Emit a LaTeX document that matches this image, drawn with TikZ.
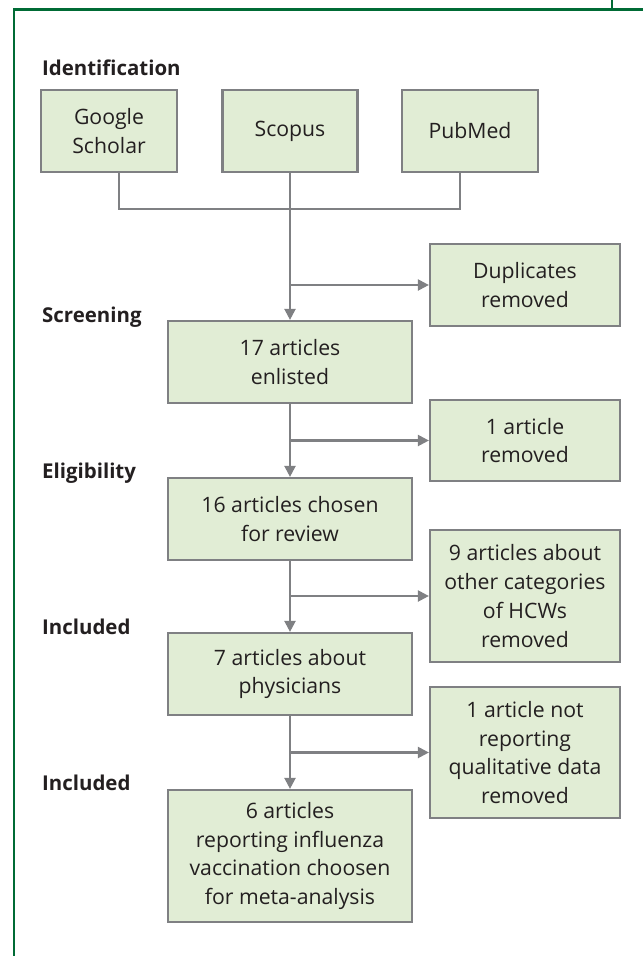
\documentclass[tikz,border=0pt]{standalone}
\usepackage{fontspec}
\setmainfont{Open Sans}
\usetikzlibrary{arrows.meta}
\definecolor{boxfill}{HTML}{E1EDD5}
\definecolor{boxline}{HTML}{7F8083}
\definecolor{framegreen}{HTML}{006B35}
\definecolor{txt}{HTML}{231F20}
\tikzset{
  box/.style={draw=boxline, fill=boxfill, line width=2.2bp, align=center, inner sep=0pt,
    text=txt, font=\fontsize{21.3}{28.8}\selectfont},
  lab/.style={anchor=base west, inner sep=0pt, text=txt, font=\fontsize{20.5}{24}\selectfont\bfseries},
  conn/.style={draw=boxline, line width=2.2bp},
  arr/.style={conn, -{Triangle[length=11bp,width=11bp]}},
}
\begin{document}
\begin{tikzpicture}[x=1bp,y=-1bp]
\useasboundingbox (0,0) rectangle (643,956);
% frame
\draw[framegreen, line width=2.2bp] (14,956) -- (14,9.5) -- (643,9.5);
\draw[framegreen, line width=2.2bp] (612,0) -- (612,9.5);
% labels
\node[lab] (lid) at (42,75) {Identification};
\node[lab] (lsc) at (42,322) {Screening};
\node[lab] (lel) at (42,478) {Eligibility};
\node[lab] (lin1) at (42,634) {Included};
\node[lab] (lin2) at (42,790) {Included};
% top boxes
\node[box, minimum width=136bp, minimum height=82bp] (gs) at (109,131) {Google\\Scholar};
\node[box, minimum width=135bp, minimum height=82bp] (sc) at (290,131) {Scopus};
\node[box, minimum width=136bp, minimum height=82bp] (pm) at (470,131) {PubMed};
% main column
\node[box, minimum width=244bp, minimum height=82bp] (b17) at (290,362) {17 articles\\enlisted};
\node[box, minimum width=244bp, minimum height=82bp] (b16) at (290,519) {16 articles chosen\\for review};
\node[box, minimum width=244bp, minimum height=82bp] (b7) at (290,674) {7 articles about\\physicians};
\node[box, minimum width=244bp, minimum height=132bp] (b6) at (290,856) {6 articles\\reporting influenza\\vaccination choosen\\for meta-analysis};
% right column
\node[box, minimum width=190bp, minimum height=82bp] (dup) at (525,285) {Duplicates\\removed};
\node[box, minimum width=190bp, minimum height=81bp] (r1) at (525,440.5) {1 article\\removed};
\node[box, minimum width=190bp, minimum height=132bp] (r9) at (525,596) {9 articles about\\other categories\\of HCWs\\removed};
\node[box, minimum width=190bp, minimum height=131bp] (rq) at (525,752.5) {1 article not\\reporting\\qualitative data\\removed};
% connectors
\coordinate (jl) at (119,209);
\coordinate (jr) at (460,209);
\draw[conn] (gs.south -| jl) -- (jl) -- (jr) -- (pm.south -| jr);
\draw[arr] (sc.south) -- (b17.north);
\draw[arr] (sc.south |- dup.west) -- (dup.west);
\draw[arr] (b17.south) -- (b16.north);
\draw[arr] (b17.south |- r1.west) -- (r1.west);
\draw[arr] (b16.south) -- (b7.north);
\draw[arr] (b16.south |- r9.west) -- (r9.west);
\draw[arr] (b7.south) -- (b6.north);
\draw[arr] (b7.south |- rq.west) -- (rq.west);
\end{tikzpicture}
\end{document}
